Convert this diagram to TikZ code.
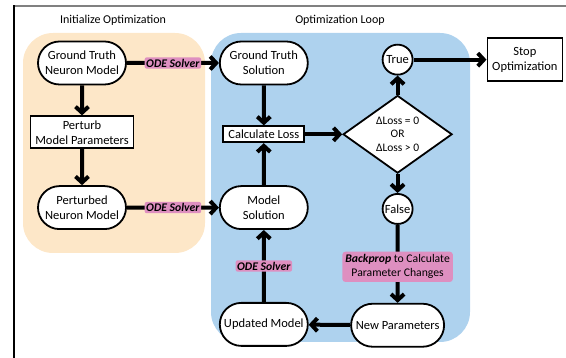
\documentclass[tikz,border=0pt]{standalone}
\usepackage{fontspec}
\setmainfont{Carlito}
\usetikzlibrary{positioning,shapes,arrows.meta}
\definecolor{initbg}{RGB}{253,231,200}
\definecolor{loopbg}{RGB}{174,210,238}
\definecolor{solverpink}{RGB}{222,143,192}

\begin{document}
\begin{tikzpicture}[x=1pt, y=1pt, font=\fontsize{12.5}{15}\selectfont,
  stadium/.style={rounded rectangle, draw, line width=1.8pt, fill=white, minimum width=92pt, minimum height=43pt, align=center, inner sep=2pt},
  box/.style={rectangle, draw, line width=1.8pt, fill=white, align=center},
  circ/.style={circle, draw, line width=1.8pt, fill=white, minimum size=30pt, inner sep=1pt},
  decision/.style={diamond, draw, line width=1.8pt, fill=white, minimum width=109pt, minimum height=70pt, inner sep=0pt, align=center, font=\fontsize{11.5}{13.5}\selectfont},
  solver/.style={fill=solverpink, rounded corners=2pt, inner sep=1.5pt, font=\fontsize{11.7}{13}\selectfont\bfseries\itshape},
  arrow/.style={line width=4pt, -{Straight Barb[length=6pt,width=13pt]}}]
	\useasboundingbox (0,0) rectangle (566,358);
	\fill[initbg, rounded corners=30pt] (23,105) rectangle (205,325);
	\fill[loopbg, rounded corners=30pt] (211,16) rectangle (470,325);
	\draw[gray, line width=1.5pt] (14,352) -- (566,352);
	\draw[line width=1.2pt] (14,352.7) -- (14,0);
	\node (inittitle) at (113,338) [font=\fontsize{12}{14}\selectfont] {Initialize Optimization};
	\node (looptitle) at (340,338) [font=\fontsize{12}{14}\selectfont] {Optimization Loop};

	\node (gtmodel) [stadium] at (82,295) {Ground Truth\\Neuron Model};
	\node (perturb) [box, below=30pt of gtmodel, minimum width=103pt, minimum height=32pt, inner sep=1pt] {Perturb\\Model Parameters};
	\node (ptmodel) [stadium, below=36pt of perturb] {Perturbed\\Neuron Model};
	\node (gtsol) [stadium, right=92pt of gtmodel] {Ground Truth\\Solution};
	\node (loss) [box, below=40pt of gtsol, minimum width=81pt, minimum height=16pt, inner sep=1pt] {Calculate Loss};
	\node (modelsol) [stadium, right=92pt of ptmodel] {Model\\Solution};
	\node (updated) [stadium, below=72pt of modelsol] {Updated Model};
	\node (decide) [decision, right=37pt of loss] {ΔLoss = 0\\OR\\ΔLoss > 0};
	\node (true) [circ, above=19pt of decide] {True};
	\node (stop) [box, right=73pt of true, minimum width=75pt, minimum height=43pt] {Stop\\Optimization};
	\node (false) [circ, below=19pt of decide] {False};
	\node (newparam) [stadium, below=78pt of false, minimum width=97pt] {New Parameters};

	\path [arrow] (gtmodel) edge (perturb)
		(perturb) edge (ptmodel)
		(gtmodel) edge node[solver] {ODE Solver} (gtsol)
		(ptmodel) edge node[solver] {ODE Solver} (modelsol)
		(gtsol) edge (loss)
		(modelsol) edge (loss)
		(loss) edge (decide)
		(decide) edge (true)
		(true) edge (stop)
		(decide) edge (false)
		(false) edge node[solver, yshift=-3pt, inner sep=3pt, rounded corners=3pt, align=center, font=\fontsize{11.7}{14}\selectfont] {\textbf{\textit{Backprop}} to Calculate\\Parameter Changes} (newparam)
		(newparam) edge (updated)
		(updated) edge node[solver] {ODE Solver} (modelsol);
\end{tikzpicture}
\end{document}
